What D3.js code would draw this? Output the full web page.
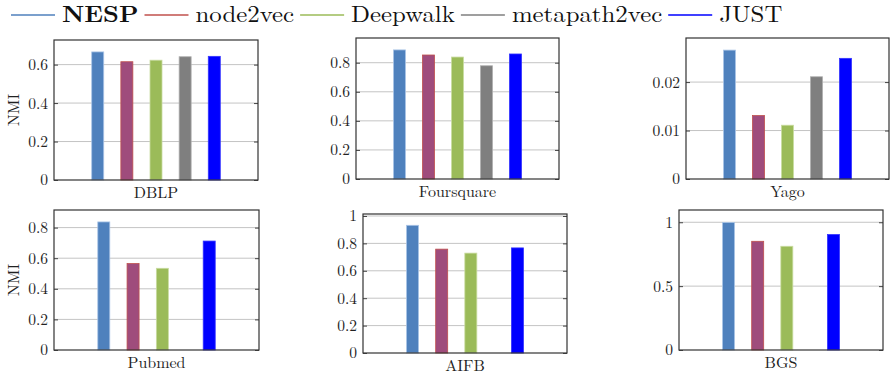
<!DOCTYPE html>
<html>
<head>
<meta charset="utf-8">
<script src="https://cdn.jsdelivr.net/npm/d3@7"></script>
<style>
  body { margin: 0; background: #fff; }
</style>
</head>
<body>
<svg id="chart" width="893" height="374"></svg>
<script>
const FONT = '"Latin Modern Roman", "Liberation Serif", serif'

// data
const methods = ["NESP", "node2vec", "Deepwalk", "metapath2vec", "JUST"]
const datasets = ["DBLP", "Foursquare", "Yago", "Pubmed", "AIFB", "BGS"]

const dblp = [0.666, 0.615, 0.623, 0.641, 0.643]
const foursquare = [0.888, 0.853, 0.839, 0.779, 0.860]
const yago = [0.0266, 0.0131, 0.0111, 0.0211, 0.0249]
// metapath2vec has no result on these three
const pubmed = [0.837, 0.565, 0.534, null, 0.712]
const aifb = [0.932, 0.758, 0.729, null, 0.767]
const bgs = [0.998, 0.851, 0.812, null, 0.904]

const yTicks = [
  [0, 0.2, 0.4, 0.6],
  [0, 0.2, 0.4, 0.6, 0.8],
  [0, 0.01, 0.02],
  [0, 0.2, 0.4, 0.6, 0.8],
  [0, 0.2, 0.4, 0.6, 0.8, 1],
  [0, 0.5, 1]
]
const yMax = [0.728, 0.97, 0.0291, 0.915, 1.0145, 1.096]

const colors = ["#4f81bd", "#9f4c7c", "#9bbb59", "#7f7f7f", "#0000ff"]
const strokes = ["#a9c4e6", "#c0504d", "#c9dca0", "#b0b0b0", "#3333ff"]
const legendLine = ["#4f81bd", "#c0504d", "#9bbb59", "#7f7f7f", "#0000ff"]

// layout
const boxes = [
  {x0: 54, x1: 258, y0: 40, y1: 180},
  {x0: 356, x1: 559, y0: 38, y1: 179},
  {x0: 686, x1: 889, y0: 38, y1: 179},
  {x0: 54, x1: 259, y0: 210, y1: 350},
  {x0: 363, x1: 567, y0: 214, y1: 353},
  {x0: 679, x1: 883, y0: 210, y1: 350}
]
const slotsFull = [-2, -1, 0, 1, 2]
const slotsShort = [-1.8, -0.8, 0.2, 1.8]

const allValues = [dblp, foursquare, yago, pubmed, aifb, bgs]
const svg = d3.select("#chart")

// legend (text in the reference is a touch wider than plain LM)
const stretch = 1.08
let lx = 11
const legend = svg.append("g")
methods.forEach((m, i) => {
  legend.append("line")
    .attr("x1", lx).attr("x2", lx + 44)
    .attr("y1", 15).attr("y2", 15)
    .attr("stroke", legendLine[i]).attr("stroke-width", 1.3)
  const t = legend.append("text")
    .attr("transform", `translate(${lx + 51},22) scale(${stretch},1)`)
    .style("font-family", FONT)
    .style("font-size", "23px")
    .style("font-weight", i === 0 ? "bold" : "normal")
    .attr("fill", "#111")
    .text(m)
  lx += 51 + t.node().getComputedTextLength() * stretch + 6
})

datasets.forEach((name, p) => {
  const b = boxes[p]
  const g = svg.append("g")
  const vals = allValues[p]
  const y = d3.scaleLinear().domain([0, yMax[p]]).range([b.y1, b.y0])
  const x = d3.scaleLinear().domain([-3.5, 3.5]).range([b.x0, b.x1])

  // grid
  g.selectAll(".grid").data(yTicks[p].filter(v => v > 0)).enter()
    .append("line")
    .attr("x1", b.x0).attr("x2", b.x1)
    .attr("y1", d => y(d)).attr("y2", d => y(d))
    .attr("stroke", "#c4c4c4").attr("stroke-width", 1)

  // left axis
  const axisL = d3.axisLeft(y).tickValues(yTicks[p]).tickSize(-4).tickPadding(6)
    .tickFormat(d => d === 0 ? "0" : (p === 2 ? d3.format(".2f")(d) : (d === 1 ? "1" : d3.format(".1f")(d))))
  const ga = g.append("g").attr("transform", `translate(${b.x0},0)`).call(axisL)
  ga.select(".domain").remove()
  ga.selectAll(".tick line").attr("stroke", "#444")
  ga.selectAll(".tick text").style("font-size", "15.5px").attr("fill", "#222")
    .style("font-family", FONT)

  const axisR = d3.axisRight(y).tickValues(yTicks[p]).tickSize(-4).tickFormat("")
  const gr = g.append("g").attr("transform", `translate(${b.x1},0)`).call(axisR)
  gr.select(".domain").remove()
  gr.selectAll(".tick line").attr("stroke", "#444")

  // bars
  const present = vals.map((v, i) => ({v, i})).filter(d => d.v !== null)
  const slots = present.length === 5 ? slotsFull : slotsShort
  const bw = 12
  g.selectAll(".bar").data(present).enter()
    .append("rect")
    .attr("x", (d, k) => x(slots[k]) - bw / 2)
    .attr("y", d => y(d.v))
    .attr("width", bw)
    .attr("height", d => y(0) - y(d.v))
    .attr("fill", d => colors[d.i])
    .attr("stroke", d => strokes[d.i])
    .attr("stroke-width", 0.8)

  // frame
  g.append("rect")
    .attr("x", b.x0).attr("y", b.y0)
    .attr("width", b.x1 - b.x0).attr("height", b.y1 - b.y0)
    .attr("fill", "none").attr("stroke", "#333").attr("stroke-width", 1.2)

  // dataset label
  g.append("text")
    .attr("x", (b.x0 + b.x1) / 2).attr("y", b.y1 + 18)
    .attr("text-anchor", "middle")
    .style("font-family", FONT)
    .style("font-size", "16px")
    .attr("fill", "#222")
    .text(name)

  if (p === 0 || p === 3) {
    g.append("text")
      .attr("transform", `translate(19,${(b.y0 + b.y1) / 2}) rotate(-90)`)
      .attr("text-anchor", "middle")
      .style("font-family", FONT)
      .style("font-size", "16px")
      .attr("fill", "#222")
      .text("NMI")
  }
})
</script>
</body>
</html>
